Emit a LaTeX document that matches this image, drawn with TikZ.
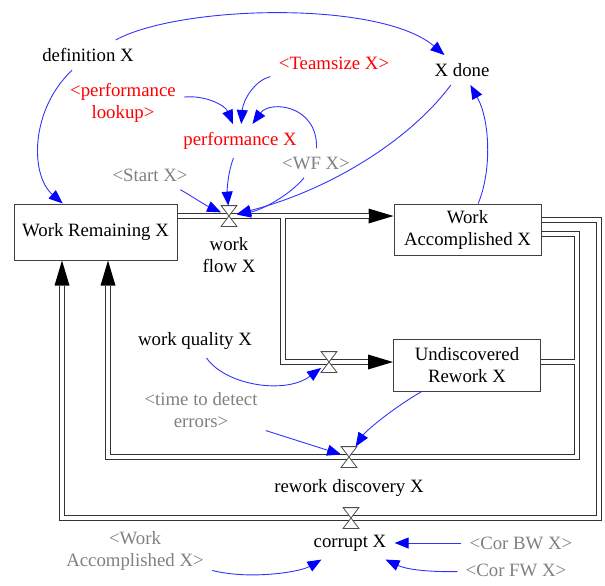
\documentclass[tikz,border=0pt]{standalone}
\usepackage{fontspec}
\setmainfont{Liberation Serif}
\usetikzlibrary{arrows.meta}

\begin{document}
\begin{tikzpicture}[x=0.5pt, y=-0.5pt,
font=\fontsize{9.4}{11}\selectfont,
stock/.style={rectangle, draw=black!75, line width=0.5pt, fill=white, align=center, inner sep=1pt},
aux/.style={inner sep=4pt, align=center},
ghost_aux/.style={aux, text=gray},
red_aux/.style={aux, text=red},
valve_node/.style={rectangle, minimum width=7.5pt, minimum height=10pt, inner sep=0pt},
valve/.style={draw=black!70, line width=0.4pt, fill=white},
pipe/.style={draw=black!80, line width=3.3pt, line join=miter},
pipe_core/.style={draw=white, line width=2.3pt, line join=miter},
pipe_tip/.style={-{Triangle[length=12.5pt, width=7.5pt, line width=0pt, color=black]}},
link/.style={draw=blue!80, line width=0.45pt, -{Triangle[length=7pt, width=5.5pt, color=blue]}},
]

\useasboundingbox (0,0) rectangle (605,585);

\begin{scope}

	% stocks
	\node[stock, minimum width=81.5pt, minimum height=28pt] at (95.5,232) (wr) []{Work Remaining X};
	\node[stock, minimum width=73.5pt, minimum height=25.5pt] at (467.5,229.5) (wa) []{Work\\Accomplished X};
	\node[stock, minimum width=73.5pt, minimum height=26pt] at (467,365) (ur) []{Undiscovered\\Rework X};

	% valves
	\node[valve_node] at (229,216) (wfv) {};
	\node[valve_node] at (329,362) (errv) {};
	\node[valve_node] at (349,457) (rdv) {};
	\node[valve_node] at (351,518) (corv) {};
	\coordinate (split) at (283,216);

	% variables
	\node[aux] at (88,55) (defn) []{definition X};
	\node[aux] at (462,70) (xdone) []{X done};
	\node[red_aux] at (334,63) (teamsize) []{<Teamsize X>};
	\node[red_aux] at (123,103) (perflookup) []{<performance\\lookup>};
	\node[red_aux] at (240,141) (perf) []{performance X};
	\node[ghost_aux] at (150,175) (startx) []{<Start X>};
	\node[ghost_aux] at (316,163) (wfx) []{<WF X>};
	\node[aux] at (229,255) (wflab) []{work\\flow X};
	\node[aux] at (195,341) (wq) []{work quality X};
	\node[ghost_aux] at (201,410) (ttde) []{<time to detect\\errors>};
	\node[aux] at (349,488) (rdlab) []{rework discovery X};
	\node[ghost_aux] at (135,551) (waref) []{<Work\\Accomplished X>};
	\node[aux] at (350,543) (corrupt) []{corrupt X};
	\node[ghost_aux] at (521,543) (corbw) []{<Cor BW X>};
	\node[ghost_aux] at (516,570) (corfw) []{<Cor FW X>};

	% pipes, outer lines
	\draw[pipe, pipe_tip] (wr.east |- wfv) -- (wa.west |- wfv);
	\draw[pipe, pipe_tip] (split) |- (ur.west |- errv);
	\draw[pipe, pipe_tip] ([yshift=4.75pt]wa.east) -| (599,518) -| (wr.south -| 62,0);
	\draw[pipe, pipe_tip] ([yshift=-2.25pt]wa.east) -| (577,457) -| (wr.south -| 108,0);
	\draw[pipe] (ur.east |- errv) -- (577,362);

	% pipes, inner lines
	\draw[pipe_core, shorten >=12.5pt] (wr.east |- wfv) -- (wa.west |- wfv);
	\draw[pipe_core, shorten >=12.5pt] (split) |- (ur.west |- errv);
	\draw[pipe_core, shorten >=12.5pt] ([yshift=4.75pt]wa.east) -| (599,518) -| (wr.south -| 62,0);
	\draw[pipe_core, shorten >=12.5pt] ([yshift=-2.25pt]wa.east) -| (577,457) -| (wr.south -| 108,0);
	\draw[pipe_core] (ur.east |- errv) -- (577,362);

	\foreach \v in {wfv, errv, rdv, corv}
		\draw[valve] (\v.north west) -- (\v.north east) -- (\v.south west) -- (\v.south east) -- cycle;

	% causal links
	\draw[link] (defn) .. controls (180,5) and (380,0) .. (xdone);
	\draw[link] (defn) .. controls (30,110) and (30,175) .. (wr);
	\draw[link] (teamsize) .. controls (255,80) and (243,100) .. (perf);
	\draw[link] (perflookup) .. controls (205,95) and (225,105) .. (perf);
	\draw[link] (wfx) .. controls (318,105) and (270,100) .. (perf);
	\draw[link] (perf) .. controls (228,172) and (227,190) .. (wfv);
	\draw[link] (startx) .. controls (185,192) and (205,205) .. (wfv);
	\draw[link] (wfx) .. controls (290,195) and (262,210) .. (wfv);
	\draw[link] (xdone) .. controls (410,140) and (330,190) .. (wfv);
	\draw[link] (wa) .. controls (492,170) and (490,120) .. (xdone);
	\draw[link] (wq) .. controls (225,385) and (285,395) .. (errv);
	\draw[link] (ttde) -- (rdv);
	\draw[link] (ur) .. controls (390,410) and (365,432) .. (rdv);
	\draw[link] (waref) .. controls (250,580) and (300,572) .. (corrupt);
	\draw[link] (corbw) -- (corrupt);
	\draw[link] (corfw) .. controls (440,572) and (410,571) .. (corrupt);

\end{scope}

\end{tikzpicture}
\end{document}
